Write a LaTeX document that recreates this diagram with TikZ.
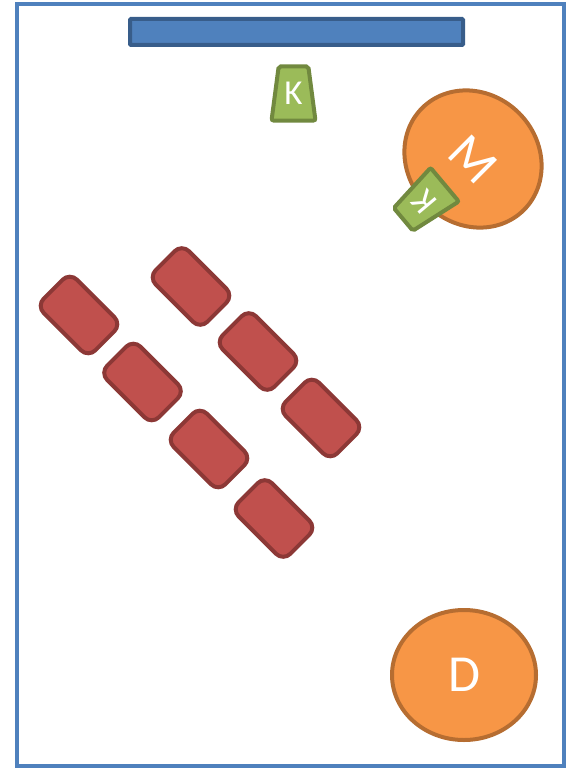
\documentclass[tikz,border=0pt]{standalone}
\usepackage{fontspec}
\setmainfont{Carlito}
\usetikzlibrary{shapes.geometric}
\definecolor{roomblue}{HTML}{4F81BD}
\definecolor{boardline}{HTML}{385D8A}
\definecolor{deskfill}{HTML}{C0504D}
\definecolor{deskline}{HTML}{8C3836}
\definecolor{seatfill}{HTML}{F79646}
\definecolor{seatline}{HTML}{B66D31}
\definecolor{kfill}{HTML}{9BBB59}
\definecolor{kline}{HTML}{71893F}

\begin{document}
\begin{tikzpicture}[x=1pt, y=-1pt,
    desk/.style={draw=deskline, fill=deskfill, line width=4pt, rounded corners=10pt,
                 minimum width=73pt, minimum height=47pt, inner sep=0pt, rotate=-45},
    kbox/.style={trapezium, trapezium stretches=true, trapezium left angle=79,
                 trapezium right angle=79, draw=kline, fill=kfill, line width=4pt,
                 rounded corners=2pt, minimum width=44pt, minimum height=54pt,
                 inner sep=0pt, text=white, font=\fontsize{35}{35}\selectfont},
    seat/.style={ellipse, draw=seatline, fill=seatfill, line width=4pt,
                 minimum width=144pt, minimum height=130pt, inner sep=0pt,
                 text=white, font=\fontsize{52}{52}\selectfont}
]
\useasboundingbox (0,0) rectangle (566,768);
\draw[roomblue, line width=4pt] (16.5,4.5) rectangle (563.5,765.5);

\node[draw=boardline, fill=roomblue, line width=4pt, rounded corners=1pt,
      minimum width=333pt, minimum height=26pt, inner sep=0pt] (board) at (296.5,32) {};
\node[kbox] (ktop) at (293.5,93.5) {K};

\node[seat, rotate=-45] (m) at (473,159) {M};
\node[kbox, rotate=130] (km) at (424,202) {K};
\node[seat] (d) at (464,675) {D};

\node[desk] (desk1) at (79,315) {};
\node[desk] (desk2) at (142.5,382) {};
\node[desk] (desk3) at (209,449) {};
\node[desk] (desk4) at (274,518.5) {};
\node[desk] (desk5) at (191,286.5) {};
\node[desk] (desk6) at (258,351.5) {};
\node[desk] (desk7) at (321,418) {};
\end{tikzpicture}
\end{document}
